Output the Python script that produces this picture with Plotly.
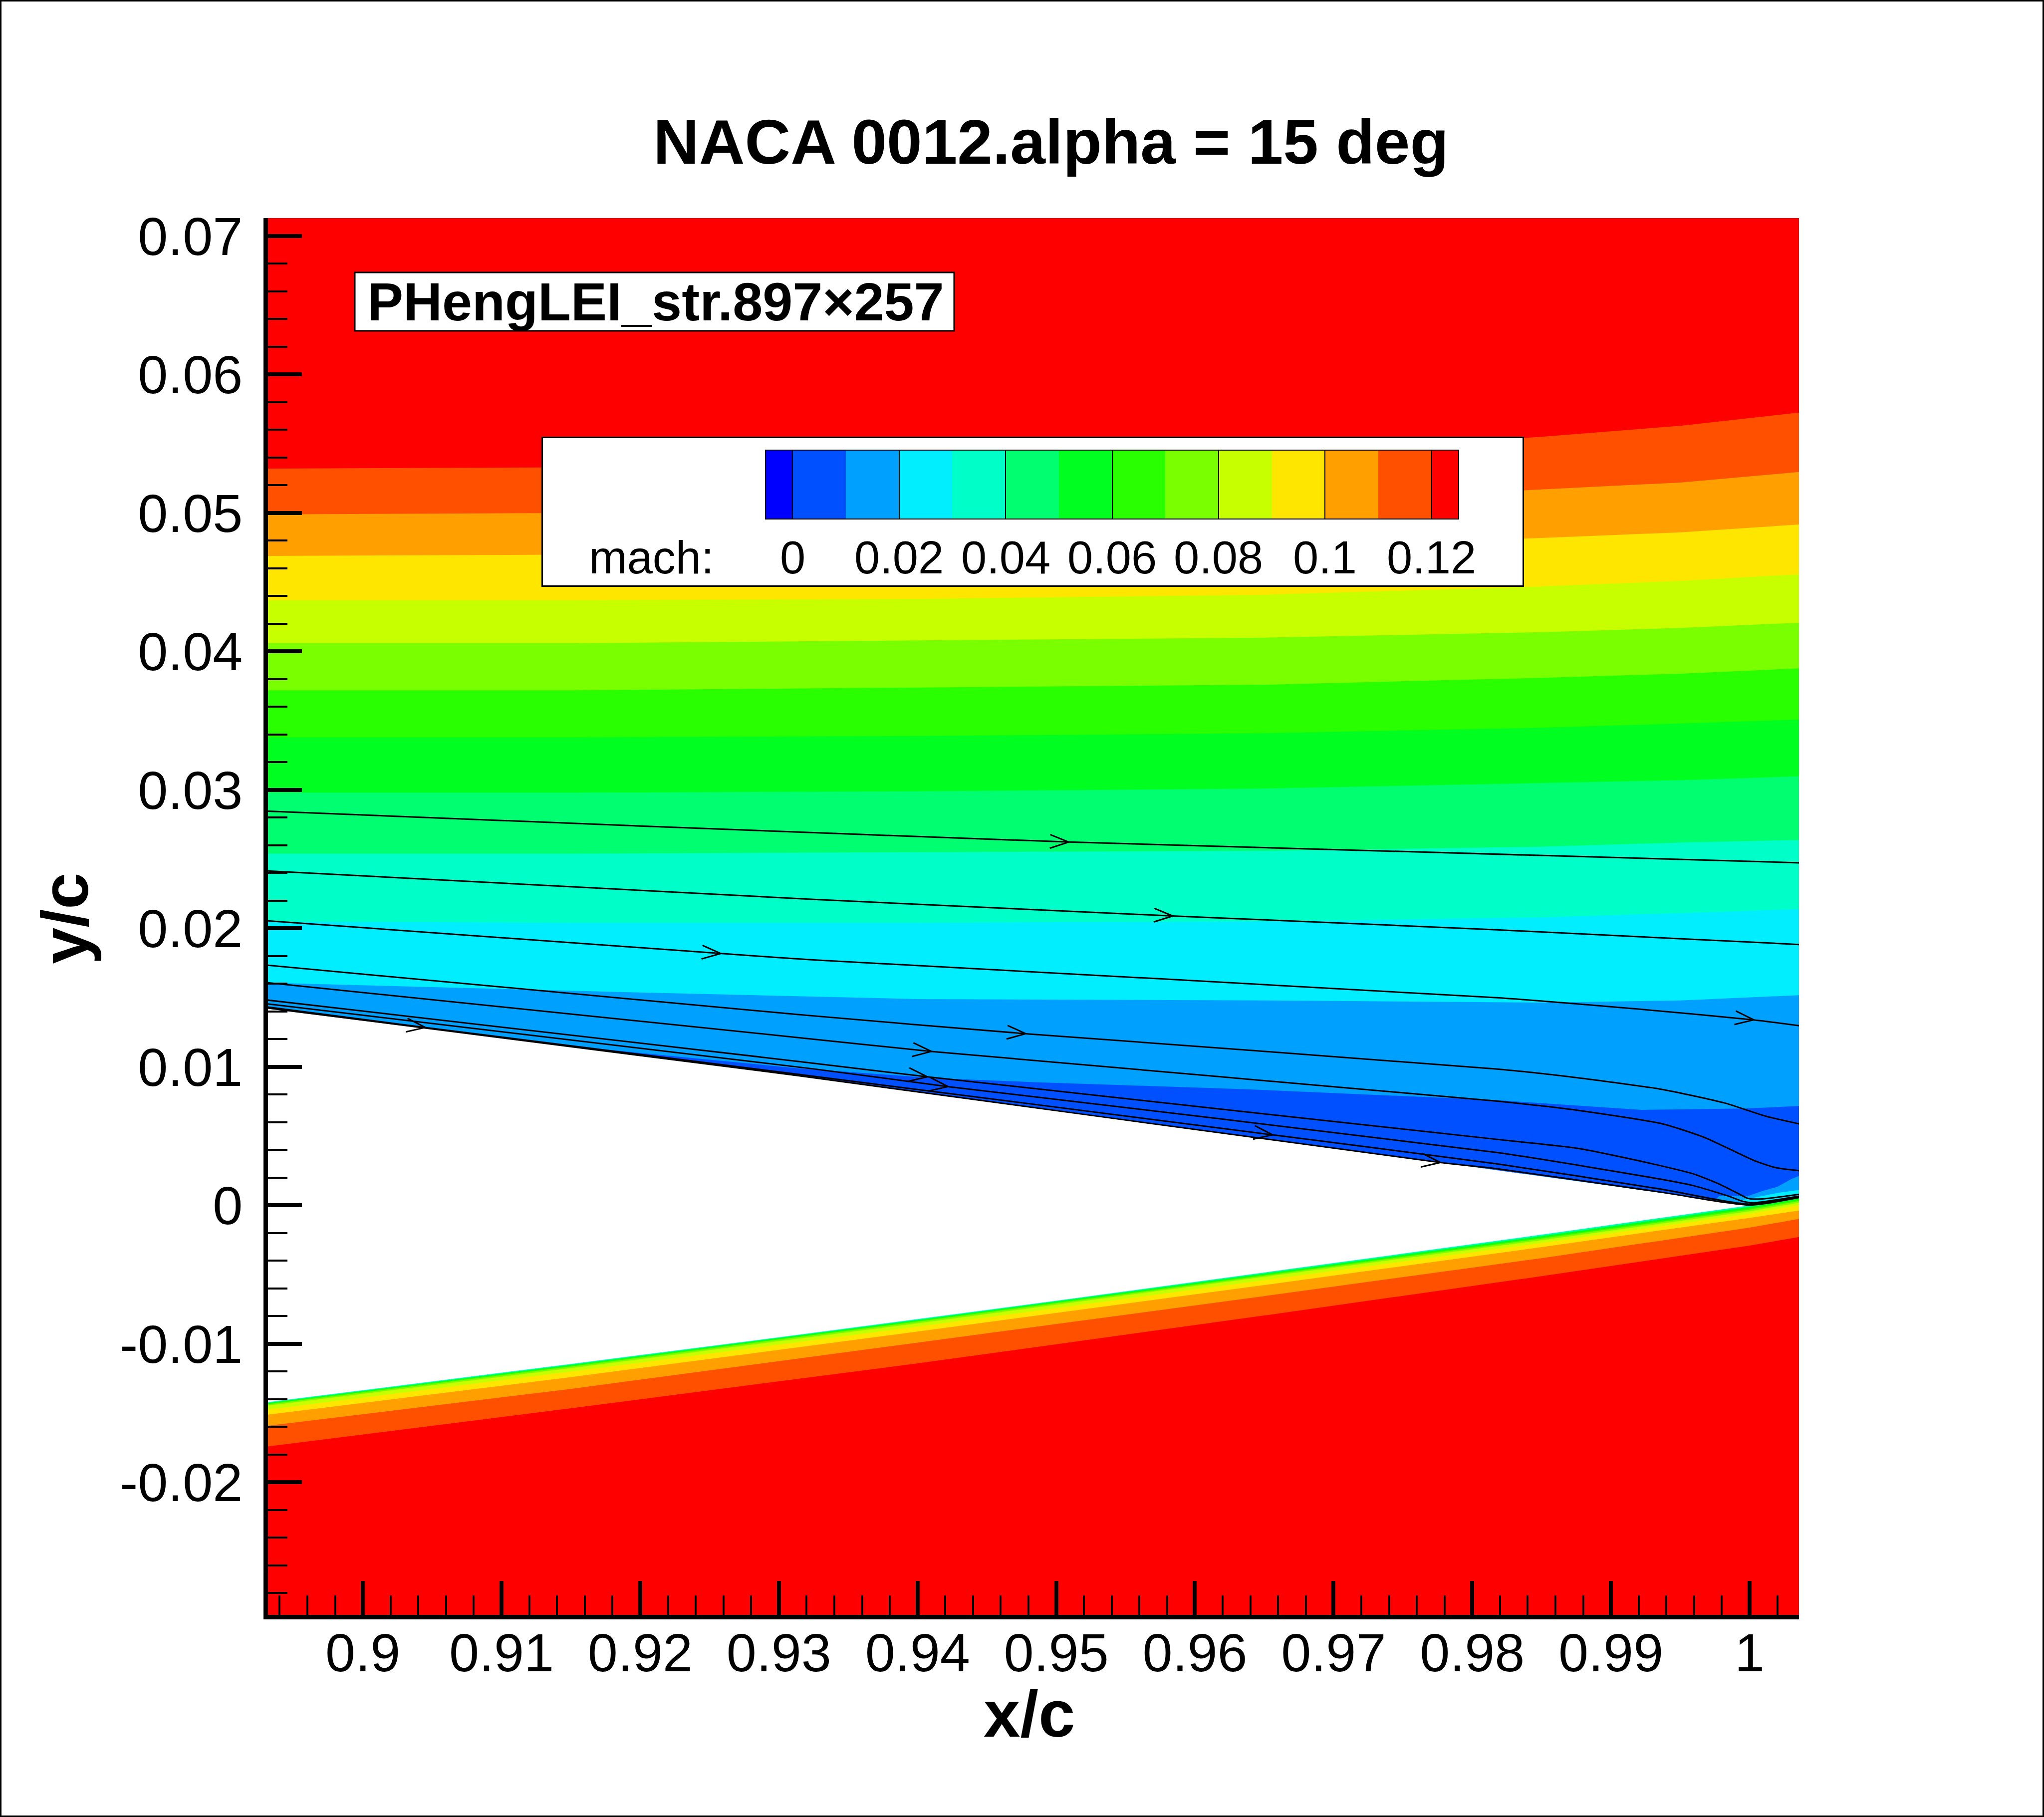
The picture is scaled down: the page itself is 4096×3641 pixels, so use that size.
import numpy as np
import plotly.graph_objects as go

# ---------------- data ----------------
LEVELS = [0.0, 0.01, 0.02, 0.03, 0.04, 0.05, 0.06, 0.07, 0.08, 0.09, 0.10, 0.11, 0.12]
BAND_COLORS = ['#0000ff', '#0050ff', '#00a0ff', '#00eeff', '#00ffc8', '#00ff70', '#00ff20',
               '#2aff00', '#7aff00', '#c8ff00', '#ffe600', '#ffa000', '#ff5000', '#ff0000']
CB_EDGES = [-0.005, 0.0, 0.01, 0.02, 0.03, 0.04, 0.05, 0.06, 0.07, 0.08, 0.09, 0.10, 0.11, 0.12, 0.125]
CB_TICKS = [0.0, 0.02, 0.04, 0.06, 0.08, 0.10, 0.12]
CB_TICKTEXT = ['0', '0.02', '0.04', '0.06', '0.08', '0.1', '0.12']

X_TICKS = [0.9, 0.91, 0.92, 0.93, 0.94, 0.95, 0.96, 0.97, 0.98, 0.99, 1.0]
X_TICKTEXT = ['0.9', '0.91', '0.92', '0.93', '0.94', '0.95', '0.96', '0.97', '0.98', '0.99', '1']
Y_TICKS = [-0.02, -0.01, 0.0, 0.01, 0.02, 0.03, 0.04, 0.05, 0.06, 0.07]
Y_TICKTEXT = ['-0.02', '-0.01', '0', '0.01', '0.02', '0.03', '0.04', '0.05', '0.06', '0.07']

# airfoil half-thickness near the trailing edge
AF_X = [0.8925, 0.90, 0.915, 0.93, 0.94, 0.95, 0.965, 0.975, 0.985, 0.99, 0.995, 1.0]
AF_T = [0.01429, 0.01335, 0.01145, 0.00952, 0.00821, 0.00688, 0.00485, 0.00348, 0.00211, 0.00141, 0.0007, 0.0]
WAKE_X = [1.0, 1.002, 1.004]
WAKE_Y = [0.0, 0.0004, 0.0007]

# upper-side mach iso-lines (level boundaries)
UP_X = [0.8925, 0.915, 0.94, 0.965, 0.985, 0.995, 1.004]
UP_012 = [0.0532, 0.0533, 0.0536, 0.0542, 0.0555, 0.0563, 0.0573]
UP_011 = [0.0499, 0.0500, 0.0502, 0.0507, 0.0517, 0.0522, 0.0530]
UP_010 = [0.0469, 0.0470, 0.0471, 0.0475, 0.0482, 0.0486, 0.0492]
UP_009 = [0.0437, 0.0437, 0.0438, 0.0441, 0.0447, 0.0451, 0.0456]
UP_008 = [0.0406, 0.0406, 0.0408, 0.0410, 0.0414, 0.0417, 0.0421]
UP_007 = [0.0372, 0.0372, 0.0374, 0.0376, 0.0381, 0.0384, 0.0388]
UP_006 = [0.0338, 0.0338, 0.0339, 0.0341, 0.0345, 0.0348, 0.0351]
UP_005 = [0.0298, 0.0298, 0.0299, 0.0301, 0.0305, 0.0307, 0.0310]
UP_004 = [0.0254, 0.0254, 0.0255, 0.0256, 0.0259, 0.0262, 0.0264]
UP_003 = [0.0205, 0.0204, 0.0204, 0.0205, 0.0208, 0.0211, 0.0214]
UP_002 = [0.0161, 0.0155, 0.0149, 0.0148, 0.01465, 0.0148, 0.0152]
UP_001_X = [0.8925, 0.915, 0.9314, 0.9411, 0.9484, 0.9635, 0.9818, 0.9922, 0.9997, 1.004]
UP_001 = [0.0140, 0.0115, 0.0099, 0.0092, 0.0089, 0.0084, 0.0076, 0.0069, 0.0070, 0.0072]
POCKET_X = [0.9975, 0.9978, 0.9999, 1.0009, 1.0020, 1.0030, 1.0040]
POCKET_Y = [0.00035, 0.00068, 0.00068, 0.00104, 0.00134, 0.0019, 0.0023]
SLIVER_X = [0.9995, 1.001, 1.002, 1.004]
SLIVER_Y = [0.0004, 0.0007, 0.0009, 0.00118]

# lower-side mach iso-lines
LO_X = [0.8925, 0.915, 0.94, 0.965, 0.985, 1.0, 1.004]
LO_012 = [-0.01749, -0.01465, -0.01141, -0.00795, -0.00511, -0.0029, -0.0022]
LO_011 = [-0.01599, -0.01325, -0.00991, -0.00655, -0.00381, -0.0016, -0.0009]
LO_010 = [-0.01519, -0.0124, -0.00911, -0.00575, -0.00301, -0.0009, -0.0003]
LO_009 = [-0.01483, -0.012, -0.00876, -0.0054, -0.00271, -0.0006, 0.0001]
LO_008 = [-0.01454, -0.01175, -0.00851, -0.00515, -0.00251, -0.00042, 0.00028]
LO_007 = [-0.01444, -0.01163, -0.00839, -0.00505, -0.00239, -0.0003, 0.0004]
LO_006 = [-0.01439, -0.01157, -0.00833, -0.00498, -0.00231, -0.0002, 0.0005]
LO_005 = [-0.01436, -0.01153, -0.00829, -0.00494, -0.00223, -0.00012, 0.00058]
LO_004 = [-0.01434, -0.0115, -0.00826, -0.0049, -0.00218, -0.00007, 0.00063]

# streamlines
SL1_X = [0.8925, 0.92, 0.9509, 1.004]
SL1_Y = [0.02849, 0.0274, 0.02624, 0.02473]
SL1_ARROWS = [0.9509]
SL2_X = [0.8925, 0.9325, 0.9584, 0.9667, 0.9818, 1.004]
SL2_Y = [0.02419, 0.0221, 0.0209, 0.02055, 0.0199, 0.01882]
SL2_ARROWS = [0.9584]
SL3_X = [0.8925, 0.9265, 0.9325, 0.9818, 0.9922, 1.0003, 1.004]
SL3_Y = [0.0206, 0.01814, 0.01773, 0.0150, 0.01416, 0.0134, 0.01292]
SL3_ARROWS = [0.9258, 1.0003]
SL4_X = [0.8925, 0.9314, 0.9478, 0.9818, 0.98775, 0.99372, 0.99819, 1.00118, 1.004]
SL4_Y = [0.0174, 0.01378, 0.0124, 0.00985, 0.0092, 0.00837, 0.0074, 0.00644, 0.0058]
SL4_ARROWS = [0.9478]
SL5_X = [0.8925, 0.9314, 0.9410, 0.9818, 0.98775, 0.99372, 0.99671, 0.99894, 1.00043, 1.00193, 1.004]
SL5_Y = [0.01615, 0.01212, 0.01112, 0.00753, 0.00685, 0.00589, 0.00492, 0.00389, 0.0032, 0.00272, 0.00247]
SL5_ARROWS = [0.9410]
SL6_X = [0.8925, 0.9314, 0.9407, 0.9818, 0.98775, 0.99366, 0.99606, 0.99786, 0.99906, 0.9999, 1.00086, 1.004]
SL6_Y = [0.0149, 0.0104, 0.00929, 0.00477, 0.0041, 0.00285, 0.00224, 0.00152, 0.00092, 0.0005, 0.00047, 0.00086]
SL6_ARROWS = [0.9407]
SL7_X = [0.8925, 0.9325, 0.9422, 0.9818, 0.99366, 0.99606, 0.99846, 0.99942, 1.00026, 1.004]
SL7_Y = [0.01463, 0.00986, 0.00858, 0.00382, 0.00188, 0.0014, 0.00068, 0.00032, 0.0002, 0.00074]
SL7_ARROWS = [0.9422]
SL8_X = [0.8925, 0.9045, 0.9314, 0.9656, 0.9818, 0.99366, 0.9999, 1.004]
SL8_Y = [0.01441, 0.01285, 0.00947, 0.0051, 0.0030, 0.00117, 0.0001, 0.0007]
SL8_ARROWS = [0.9045, 0.9656]
SL9_X = [0.8925, 0.9314, 0.9777, 0.9818, 0.99366, 1.0, 1.004]
SL9_Y = [0.01434, 0.00937, 0.0031, 0.00265, 0.00095, 0.00003, 0.00065]
SL9_ARROWS = [0.9777]

# ---------------- layout constants ----------------
W, H = 4096, 3641
ML, MR, MT, MB = 537, 491, 437, 405
PW, PH = W - ML - MR, H - MT - MB
X_RANGE = [0.893156, 1.003562]
Y_RANGE = [-0.029568, 0.071297]
FONT = 'Liberation Sans, Arial, sans-serif'


def px(X):
    return (X - ML) / PW


def py(Y):
    return (H - MB - Y) / PH


PX_X = PW / (X_RANGE[1] - X_RANGE[0])
PX_Y = PH / (Y_RANGE[1] - Y_RANGE[0])

fig = go.Figure()


def poly(xs, ys, color, **kw):
    fig.add_trace(go.Scatter(x=xs, y=ys, mode='lines', fill='toself', fillcolor=color,
                             line=dict(width=0, color=color), hoverinfo='skip', **kw))


# background (highest band)
poly([X_RANGE[0], X_RANGE[1], X_RANGE[1], X_RANGE[0]],
     [Y_RANGE[0], Y_RANGE[0], Y_RANGE[1], Y_RANGE[1]], BAND_COLORS[13])

# upper side: region below each iso-line gets the band just below that level
BOT_X = AF_X + WAKE_X[1:]
BOT_Y = AF_T + WAKE_Y[1:]
upper = [(UP_012, 12), (UP_011, 11), (UP_010, 10), (UP_009, 9), (UP_008, 8), (UP_007, 7),
         (UP_006, 6), (UP_005, 5), (UP_004, 4), (UP_003, 3), (UP_002, 2)]
for yb, k in upper:
    poly(UP_X + BOT_X[::-1], yb + BOT_Y[::-1], BAND_COLORS[k])
poly(UP_001_X + BOT_X[::-1], UP_001 + BOT_Y[::-1], BAND_COLORS[1])
bx = [x for x in BOT_X if x >= POCKET_X[0]]
by = [y for x, y in zip(BOT_X, BOT_Y) if x >= POCKET_X[0]]
poly(POCKET_X + bx[::-1], POCKET_Y + by[::-1], BAND_COLORS[2])
sx = [x for x in BOT_X if x >= SLIVER_X[0]]
sy = [y for x, y in zip(BOT_X, BOT_Y) if x >= SLIVER_X[0]]
poly(SLIVER_X + sx[::-1], SLIVER_Y + sy[::-1], BAND_COLORS[3])

# lower side
TOPL_X = AF_X + WAKE_X[1:]
TOPL_Y = [-t for t in AF_T] + WAKE_Y[1:]
lower = [(LO_012, 12), (LO_011, 11), (LO_010, 10), (LO_009, 9), (LO_008, 8),
         (LO_007, 7), (LO_006, 6), (LO_005, 5), (LO_004, 4)]
for yb, k in lower:
    poly(TOPL_X + LO_X[::-1], TOPL_Y + yb[::-1], BAND_COLORS[k])

# airfoil body
poly(AF_X + AF_X[::-1], AF_T + [-t for t in AF_T[::-1]], 'white')

# streamlines
streams = [(SL1_X, SL1_Y, SL1_ARROWS), (SL2_X, SL2_Y, SL2_ARROWS), (SL3_X, SL3_Y, SL3_ARROWS),
           (SL4_X, SL4_Y, SL4_ARROWS), (SL5_X, SL5_Y, SL5_ARROWS), (SL6_X, SL6_Y, SL6_ARROWS),
           (SL7_X, SL7_Y, SL7_ARROWS), (SL8_X, SL8_Y, SL8_ARROWS), (SL9_X, SL9_Y, SL9_ARROWS)]
ax_all, ay_all = [], []
for xs, ys, arrows in streams:
    fig.add_trace(go.Scatter(x=xs, y=ys, mode='lines',
                             line=dict(color='black', width=3, shape='spline', smoothing=0.6),
                             hoverinfo='skip'))
    for xa in arrows:
        ya = float(np.interp(xa, xs, ys))
        h = 0.0008
        dxp = 2 * h * PX_X
        dyp = (np.interp(xa + h, xs, ys) - np.interp(xa - h, xs, ys)) * PX_Y
        n = np.hypot(dxp, dyp)
        ux, uy = dxp / n, dyp / n
        pts = []
        for s in (1, -1):
            a = np.radians(20) * s
            c, sn = np.cos(a), np.sin(a)
            bxv = -(ux * c - uy * sn)
            byv = -(ux * sn + uy * c)
            pts.append((xa + bxv * 40 / PX_X, ya + byv * 40 / PX_Y))
        ax_all += [pts[0][0], xa, pts[1][0], None]
        ay_all += [pts[0][1], ya, pts[1][1], None]
fig.add_trace(go.Scatter(x=ax_all, y=ay_all, mode='lines', line=dict(color='black', width=3),
                         hoverinfo='skip'))

# legend box (white panel) on its own overlay axes
fig.add_trace(go.Scatter(x=[0, 1, 1, 0, 0], y=[0, 0, 1, 1, 0], mode='lines', fill='toself',
                         fillcolor='white', line=dict(width=0), xaxis='x2', yaxis='y2',
                         hoverinfo='skip'))
# colour swatches
cb_c = [(a + b) / 2 for a, b in zip(CB_EDGES[:-1], CB_EDGES[1:])]
cb_w = [b - a for a, b in zip(CB_EDGES[:-1], CB_EDGES[1:])]
fig.add_trace(go.Bar(x=cb_c, y=[1] * len(cb_c), width=cb_w, marker=dict(color=BAND_COLORS, line=dict(width=0)),
                     xaxis='x3', yaxis='y3', hoverinfo='skip'))

tick_font = dict(family=FONT, size=108, color='black')
fig.update_layout(
    width=W, height=H, margin=dict(l=ML, r=MR, t=MT, b=MB, pad=0),
    paper_bgcolor='white', plot_bgcolor='white', showlegend=False,
    font=dict(family=FONT, color='black'),
    xaxis=dict(domain=[0, 1], range=X_RANGE, anchor='y', showline=True, linewidth=9, linecolor='black',
               mirror=False, ticks='inside', ticklen=68, tickwidth=8, tickcolor='black',
               tickmode='array', tickvals=X_TICKS, ticktext=X_TICKTEXT, tickfont=tick_font,
               showgrid=False, zeroline=False, ticklabelstandoff=-26,
               minor=dict(ticks='inside', ticklen=39, tickwidth=4, tickcolor='black',
                          tickmode='linear', tick0=0.9, dtick=0.002, showgrid=False)),
    yaxis=dict(domain=[0, 1], range=Y_RANGE, anchor='x', showline=True, linewidth=9, linecolor='black',
               mirror=False, ticks='inside', ticklen=68, tickwidth=8, tickcolor='black',
               tickmode='array', tickvals=Y_TICKS, ticktext=Y_TICKTEXT, tickfont=tick_font,
               showgrid=False, zeroline=False, ticklabelstandoff=20,
               minor=dict(ticks='inside', ticklen=39, tickwidth=4, tickcolor='black',
                          tickmode='linear', tick0=0.0, dtick=0.002, showgrid=False)),
    xaxis2=dict(domain=[px(1088), px(3051)], range=[0, 1], anchor='y2', showline=True, mirror=True,
                linewidth=3, linecolor='black', ticks='', showticklabels=False, showgrid=False,
                zeroline=False, fixedrange=True),
    yaxis2=dict(domain=[py(1173), py(878)], range=[0, 1], anchor='x2', showline=True, mirror=True,
                linewidth=3, linecolor='black', ticks='', showticklabels=False, showgrid=False,
                zeroline=False, fixedrange=True),
    xaxis3=dict(domain=[px(1535), px(2922)], range=[CB_EDGES[0], CB_EDGES[-1]], anchor='y3',
                showline=True, mirror=True, linewidth=2, linecolor='black', ticks='inside',
                tickmode='array', tickvals=CB_TICKS, ticklen=136, tickwidth=2, tickcolor='black',
                showticklabels=False, showgrid=False, zeroline=False),
    yaxis3=dict(domain=[py(1039), py(903)], range=[0, 1], anchor='x3', showline=True, mirror=True,
                linewidth=2, linecolor='black', ticks='', showticklabels=False, showgrid=False,
                zeroline=False),
    bargap=0,
)

ann = []
ann.append(dict(text='<b>NACA 0012.alpha = 15 deg</b>', x=px(2106), y=py(284), xref='paper', yref='paper',
                xanchor='center', yanchor='middle', showarrow=False, font=dict(family=FONT, size=127, color='black')))
ann.append(dict(text='<b>x/c</b>', x=px(2063), y=py(3434), xref='paper', yref='paper',
                xanchor='center', yanchor='middle', showarrow=False, font=dict(family=FONT, size=132, color='black')))
ann.append(dict(text='<b>y/c</b>', x=px(130), y=py(1840), xref='paper', yref='paper', textangle=-90,
                xanchor='center', yanchor='middle', showarrow=False, font=dict(family=FONT, size=132, color='black')))
ann.append(dict(text='<b>PHengLEI_str.897×257</b>', x=px(734), y=py(604), xref='paper', yref='paper',
                xanchor='left', yanchor='middle', showarrow=False, font=dict(family=FONT, size=108, color='black')))
ann.append(dict(text='mach:', x=px(1305), y=py(1117), xref='paper', yref='paper',
                xanchor='center', yanchor='middle', showarrow=False, font=dict(family=FONT, size=92, color='black')))
for v, t in zip(CB_TICKS, CB_TICKTEXT):
    ann.append(dict(text=t, x=v, xref='x3', y=py(1117), yref='paper', xanchor='center', yanchor='middle',
                    showarrow=False, font=dict(family=FONT, size=92, color='black')))
fig.update_layout(annotations=ann)

fig.update_layout(shapes=[
    dict(type='rect', xref='paper', yref='paper', x0=px(711), x1=px(1912), y0=py(663), y1=py(546),
         fillcolor='white', line=dict(color='black', width=3), layer='above'),
    dict(type='rect', xref='paper', yref='paper', x0=px(0), x1=px(W), y0=py(H), y1=py(0),
         fillcolor='rgba(0,0,0,0)', line=dict(color='black', width=6), layer='above'),
])

fig.write_html('out.html')
